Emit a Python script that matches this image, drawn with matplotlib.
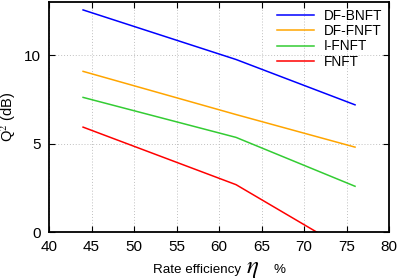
import matplotlib
matplotlib.use("Agg")
import matplotlib.pyplot as plt

plt.rcParams["font.family"] = ["Liberation Sans", "DejaVu Sans"]
plt.rcParams["mathtext.fontset"] = "stix"

eta = [44, 62, 76]
df_bnft = [12.55, 9.75, 7.19]
df_fnft = [9.08, 6.64, 4.80]
i_fnft = [7.61, 5.35, 2.59]
fnft = [5.93, 2.68, -1.27]

series = [
    ("DF-BNFT", df_bnft, "#0000ff"),
    ("DF-FNFT", df_fnft, "#ffa500"),
    ("I-FNFT", i_fnft, "#33cc33"),
    ("FNFT", fnft, "#ff0000"),
]

fig = plt.figure(figsize=(3.99, 2.80), dpi=100)
ax = fig.add_axes([0.123, 0.171, 0.852, 0.822])

for name, vals, color in series:
    ax.plot(eta, vals, color=color, lw=1.1, label=name)

ax.set_xlim(40, 80)
ax.set_ylim(0, 13)
ax.set_xticks(range(40, 81, 5))
ax.set_yticks([0, 5, 10])
ax.grid(True, color="#c0c0c0", ls=(0, (1, 2)), lw=0.7)
ax.tick_params(direction="in", top=True, right=True, labelsize=11, length=4, pad=6)
for s in ax.spines.values():
    s.set_linewidth(1.3)

ax.set_ylabel(r"Q$^{2}$ (dB)", fontsize=10.5, labelpad=4)

# x label built from pieces so the eta can be larger
fig.text(153 / 399, 0.025, "Rate efficiency", fontsize=9.6, ha="left", va="baseline")
fig.text(246 / 399, 0.025, r"$\eta$", fontsize=18, ha="left", va="baseline")
fig.text(273 / 399, 0.025, "%", fontsize=9.6, ha="left", va="baseline")

ax.legend(loc="upper right", frameon=False, fontsize=9.8, handlelength=2.7,
          labelspacing=0.1, borderaxespad=0.1, handletextpad=0.75)

fig.savefig("out.png", dpi=100)
